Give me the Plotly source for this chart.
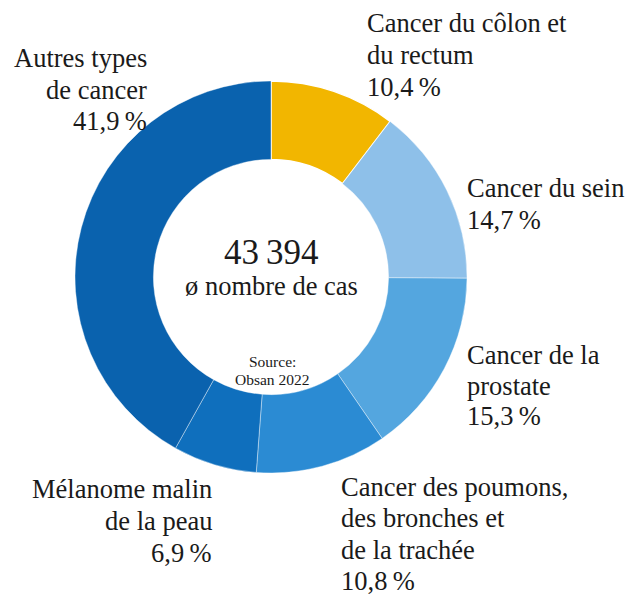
import plotly.graph_objects as go

labels = ["Cancer du côlon et\ndu rectum", "Cancer du sein", "Cancer de la\nprostate",
          "Cancer des poumons,\ndes bronches et\nde la trachée", "Mélanome malin\nde la peau",
          "Autres types\nde cancer"]
values = [10.4, 14.7, 15.3, 10.8, 6.9, 41.9]
colors = ["#F2B600", "#8EC0E9", "#54A6DF", "#2B8BD3", "#0F6FBD", "#0A62AE"]
total_cases = "43\u2009394"
center_label = "ø nombre de cas"
source_lines = ["Source:", "Obsan 2022"]

W, H = 629, 595
FONT = "Liberation Serif"
TXT = "#1a1a1a"

fig = go.Figure(go.Pie(
    labels=[l.replace("\n", " ") for l in labels], values=values, sort=False,
    direction="clockwise", rotation=0, hole=0.6,
    marker=dict(colors=colors, line=dict(color="white", width=[1.5, 0.4, 0.4, 0.4, 0.4, 0.4])),
    textinfo="none", hoverinfo="label+percent", showlegend=False,
    domain=dict(x=[(271 - 196) / W, (271 + 196) / W], y=[(H - 277 - 196) / H, (H - 277 + 196) / H]),
))

def fmt(v):
    return f"{v:.1f}".replace(".", ",") + "\u2009%"

# label placement: x px, first line centre y px, anchor, line spacing
place = [(367, 23, "left", 32.2), (467, 188, "left", 32.2), (467, 355, "left", 30.5),
         (341, 487, "left", 31.3), (212, 489, "right", 32.0), (147, 58, "right", 31.5)]
for lab, v, (x, y0, anc, ls) in zip(labels, values, place):
    lines = lab.split("\n") + [fmt(v)]
    xx = x - 2 if anc == "left" else x + 2
    for i, ln in enumerate(lines):
        fig.add_annotation(x=xx / W, y=1 - (y0 + i * ls) / H, xref="paper", yref="paper",
                           text=ln, showarrow=False, xanchor=anc, yanchor="middle",
                           font=dict(family=FONT, size=26.5, color=TXT))

fig.add_annotation(x=271 / W, y=1 - 252 / H, xref="paper", yref="paper", text=total_cases,
                   showarrow=False, font=dict(family=FONT, size=35, color=TXT))
fig.add_annotation(x=271 / W, y=1 - 286 / H, xref="paper", yref="paper", text=center_label,
                   showarrow=False, font=dict(family=FONT, size=26.5, color=TXT))
for i, s in enumerate(source_lines):
    fig.add_annotation(x=272 / W, y=1 - (362 + i * 17.5) / H, xref="paper", yref="paper", text=s,
                       showarrow=False, font=dict(family=FONT, size=15.5, color=TXT))

fig.update_layout(width=W, height=H, margin=dict(l=0, r=0, t=0, b=0),
                  paper_bgcolor="white", plot_bgcolor="white")
fig.write_html("out.html", config={"displayModeBar": False},
               post_script="document.body.style.margin='0';")
